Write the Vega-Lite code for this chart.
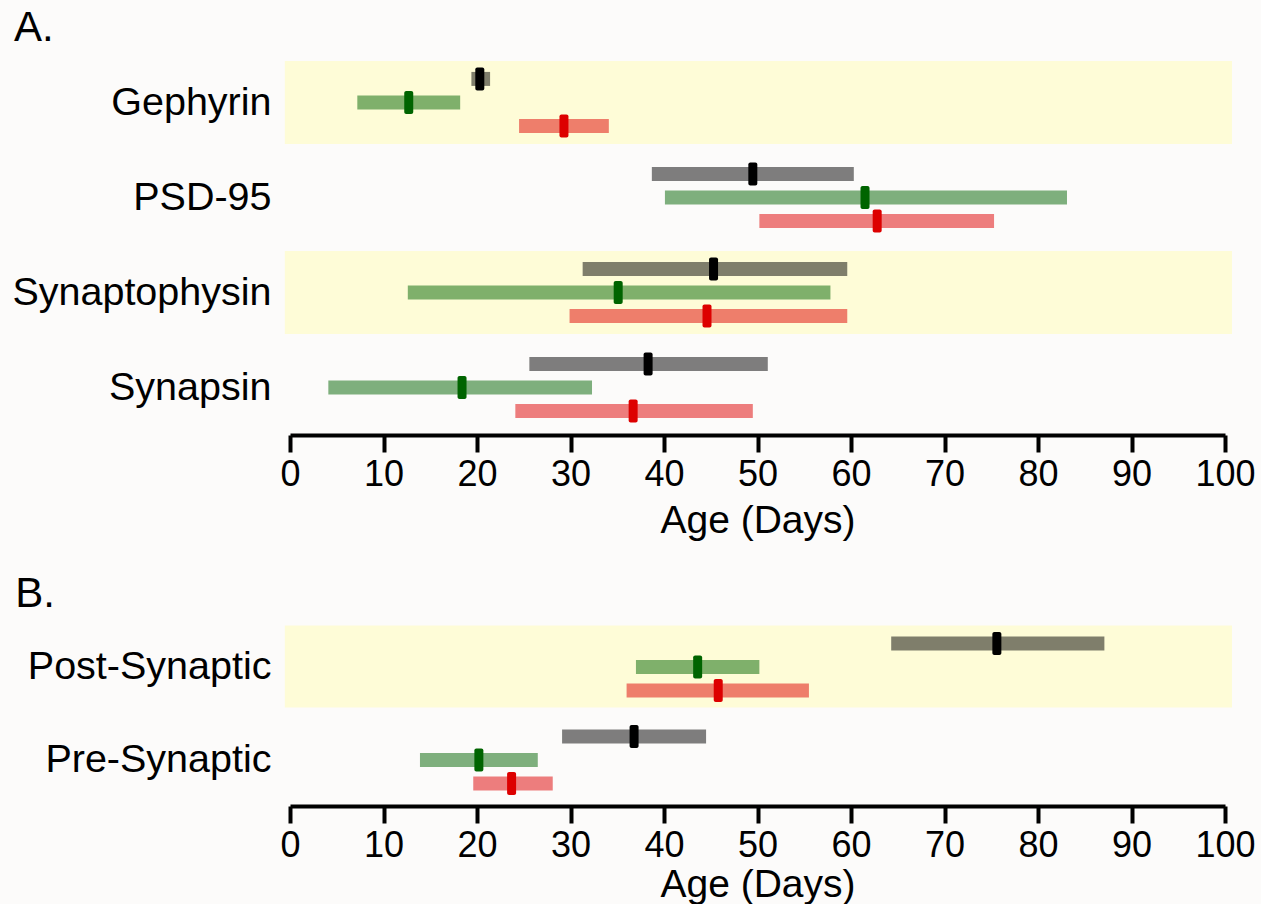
{
  "$schema": "https://vega.github.io/schema/vega-lite/v6.json",
  "background": "#fcfbfa",
  "padding": {"left": 11, "top": 7, "right": 5, "bottom": 0},
  "config": {
    "view": {"stroke": null},
    "font": "Liberation Sans",
    "concat": {"spacing": 33},
    "title": {"font": "Liberation Sans", "fontSize": 42, "fontWeight": "normal", "color": "black"},
    "axisX": {
      "grid": false,
      "tickSize": 17,
      "tickWidth": 4,
      "tickColor": "black",
      "domainWidth": 4,
      "domainColor": "black",
      "labelFlush": false,
      "labelOverlap": false,
      "labelFontSize": 36,
      "labelPadding": 5,
      "labelColor": "black",
      "labelFont": "Liberation Sans",
      "titleFont": "Liberation Sans",
      "titleFontSize": 39,
      "titleFontWeight": "normal",
      "titleColor": "black"
    },
    "axisY": {
      "title": null,
      "domain": false,
      "ticks": false,
      "grid": false,
      "labelFontSize": 39.5,
      "labelPadding": 19,
      "labelLimit": 600,
      "labelColor": "black",
      "labelFont": "Liberation Sans"
    }
  },
  "datasets": {
    "a": [
      {"row": "Gephyrin", "series": "gray", "lo": 19.4, "hi": 21.4, "med": 20.3},
      {"row": "Gephyrin", "series": "green", "lo": 7.2, "hi": 18.2, "med": 12.7},
      {"row": "Gephyrin", "series": "red", "lo": 24.5, "hi": 34.1, "med": 29.3},
      {"row": "PSD-95", "series": "gray", "lo": 38.7, "hi": 60.3, "med": 49.5},
      {"row": "PSD-95", "series": "green", "lo": 40.1, "hi": 83.1, "med": 61.5},
      {"row": "PSD-95", "series": "red", "lo": 50.2, "hi": 75.3, "med": 62.8},
      {"row": "Synaptophysin", "series": "gray", "lo": 31.3, "hi": 59.6, "med": 45.3},
      {"row": "Synaptophysin", "series": "green", "lo": 12.6, "hi": 57.8, "med": 35.1},
      {"row": "Synaptophysin", "series": "red", "lo": 29.9, "hi": 59.6, "med": 44.6},
      {"row": "Synapsin", "series": "gray", "lo": 25.6, "hi": 51.1, "med": 38.3},
      {"row": "Synapsin", "series": "green", "lo": 4.1, "hi": 32.3, "med": 18.4},
      {"row": "Synapsin", "series": "red", "lo": 24.1, "hi": 49.5, "med": 36.7}
    ],
    "b": [
      {"row": "Post-Synaptic", "series": "gray", "lo": 64.3, "hi": 87.1, "med": 75.6},
      {"row": "Post-Synaptic", "series": "green", "lo": 37.0, "hi": 50.2, "med": 43.6},
      {"row": "Post-Synaptic", "series": "red", "lo": 36.0, "hi": 55.5, "med": 45.8},
      {"row": "Pre-Synaptic", "series": "gray", "lo": 29.1, "hi": 44.5, "med": 36.8},
      {"row": "Pre-Synaptic", "series": "green", "lo": 13.9, "hi": 26.5, "med": 20.2},
      {"row": "Pre-Synaptic", "series": "red", "lo": 19.6, "hi": 28.1, "med": 23.7}
    ],
    "bandsA": [
      {"row": "Gephyrin", "x0": -0.55, "x1": 100.75},
      {"row": "Synaptophysin", "x0": -0.55, "x1": 100.75}
    ],
    "bandsB": [
      {"row": "Post-Synaptic", "x0": -0.55, "x1": 100.75}
    ]
  },
  "vconcat": [
    {
      "title": {"text": "A.", "anchor": "start", "frame": "bounds", "offset": 5, "dx": 2},
      "width": 935,
      "height": 380,
      "layer": [
        {
          "data": {"name": "bandsA"},
          "mark": {"type": "rect", "color": "#fefcd7"},
          "encoding": {
            "y": {"field": "row", "type": "nominal", "scale": {"domain": ["Gephyrin", "PSD-95", "Synaptophysin", "Synapsin"], "paddingInner": 0.126, "paddingOuter": 0.063}},
            "x": {"field": "x0", "type": "quantitative", "scale": {"domain": [0, 100], "nice": false}, "axis": {"title": "Age (Days)", "titlePadding": 9, "values": [0, 10, 20, 30, 40, 50, 60, 70, 80, 90, 100]}},
            "x2": {"field": "x1"}
          }
        },
        {
          "data": {"name": "a"},
          "mark": {"type": "rule", "strokeWidth": 14, "opacity": 0.5},
          "encoding": {
            "y": {"field": "row", "type": "nominal"},
            "yOffset": {"field": "series", "type": "nominal", "scale": {"domain": ["gray", "green", "red"], "paddingInner": 0, "paddingOuter": 0.26}},
            "x": {"field": "lo", "type": "quantitative"},
            "x2": {"field": "hi"},
            "color": {"field": "series", "type": "nominal", "scale": {"domain": ["gray", "green", "red"], "range": ["#000000", "#006400", "#dd0000"]}, "legend": null}
          }
        },
        {
          "data": {"name": "a"},
          "mark": {"type": "tick", "thickness": 9, "size": 23, "opacity": 1, "cornerRadius": 2},
          "encoding": {
            "y": {"field": "row", "type": "nominal"},
            "yOffset": {"field": "series", "type": "nominal"},
            "x": {"field": "med", "type": "quantitative"},
            "color": {"field": "series", "type": "nominal", "legend": null}
          }
        }
      ]
    },
    {
      "title": {"text": "B.", "anchor": "start", "frame": "bounds", "offset": 4, "dx": -12},
      "width": 935,
      "height": 186,
      "layer": [
        {
          "data": {"name": "bandsB"},
          "mark": {"type": "rect", "color": "#fefcd7"},
          "encoding": {
            "y": {"field": "row", "type": "nominal", "scale": {"domain": ["Post-Synaptic", "Pre-Synaptic"], "paddingInner": 0.118, "paddingOuter": 0.059}},
            "x": {"field": "x0", "type": "quantitative", "scale": {"domain": [0, 100], "nice": false}, "axis": {"title": "Age (Days)", "titlePadding": 2, "values": [0, 10, 20, 30, 40, 50, 60, 70, 80, 90, 100]}},
            "x2": {"field": "x1"}
          }
        },
        {
          "data": {"name": "b"},
          "mark": {"type": "rule", "strokeWidth": 14, "opacity": 0.5},
          "encoding": {
            "y": {"field": "row", "type": "nominal"},
            "yOffset": {"field": "series", "type": "nominal", "scale": {"domain": ["gray", "green", "red"], "paddingInner": 0, "paddingOuter": 0.24}},
            "x": {"field": "lo", "type": "quantitative"},
            "x2": {"field": "hi"},
            "color": {"field": "series", "type": "nominal", "scale": {"domain": ["gray", "green", "red"], "range": ["#000000", "#006400", "#dd0000"]}, "legend": null}
          }
        },
        {
          "data": {"name": "b"},
          "mark": {"type": "tick", "thickness": 9, "size": 23, "opacity": 1, "cornerRadius": 2},
          "encoding": {
            "y": {"field": "row", "type": "nominal"},
            "yOffset": {"field": "series", "type": "nominal"},
            "x": {"field": "med", "type": "quantitative"},
            "color": {"field": "series", "type": "nominal", "legend": null}
          }
        }
      ]
    }
  ]
}
